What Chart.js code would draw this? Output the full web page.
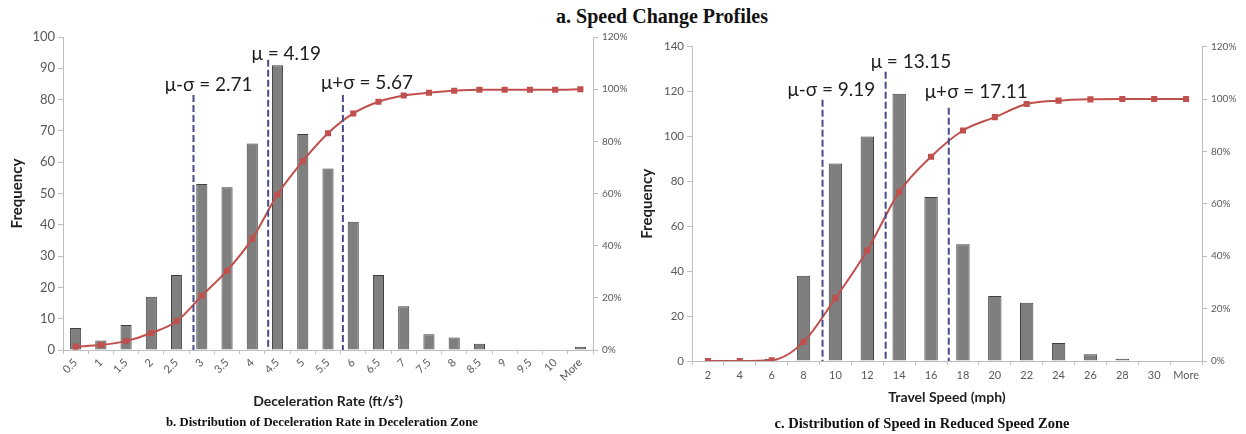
<!DOCTYPE html>
<html><head><meta charset="utf-8">
<script src="https://cdn.jsdelivr.net/npm/chart.js@4.4.0/dist/chart.umd.min.js"></script>
<style>
html,body{margin:0;padding:0;background:#fff;width:1246px;height:434px;overflow:hidden;position:relative;}
.box{position:absolute;top:0;height:434px;}
#b1{left:0;width:640px;}
#b2{left:632px;width:614px;}
.t{position:absolute;font-family:"Liberation Serif","Times New Roman",serif;font-weight:bold;color:#111;white-space:nowrap;transform:translateX(-50%);line-height:1;}
</style></head><body>
<div class="t" style="left:662px;top:6px;font-size:20px;">a. Speed Change Profiles</div>
<div class="box" id="b1"><canvas id="c1"></canvas></div>
<div class="box" id="b2"><canvas id="c2"></canvas></div>
<div class="t" style="left:322px;top:416px;font-size:12.8px;">b. Distribution of Deceleration Rate in Deceleration Zone</div>
<div class="t" style="left:922px;top:416px;font-size:14.5px;">c. Distribution of Speed in Reduced Speed Zone</div>
<script>
// ---- data ----
const decelBins = ['0.5','1','1.5','2','2.5','3','3.5','4','4.5','5','5.5','6','6.5','7','7.5','8','8.5','9','9.5','10','More'];
const decelFreq = [7,3,8,17,24,53,52,66,91,69,58,41,24,14,5,4,2,0,0,0,1];
const decelCumPct = [1.3,1.9,3.4,6.5,11,20.8,30.4,42.7,59.6,72.4,83.1,90.7,95.2,97.6,98.6,99.4,99.8,99.8,99.8,99.8,100];
const decelStatValues = [2.71, 4.19, 5.67];
const decelStatLabels = ['μ-σ = 2.71','μ = 4.19','μ+σ = 5.67'];
const decelFreqTicks = [0,10,20,30,40,50,60,70,80,90,100];
const speedBins = ['2','4','6','8','10','12','14','16','18','20','22','24','26','28','30','More'];
const speedFreq = [0,0,1,38,88,100,119,73,52,29,26,8,3,1,0,0];
const speedCumPct = [0,0,0.3,7.3,24,42.3,64.5,78,88,93.1,98.1,99.4,99.9,100,100,100];
const speedStatValues = [9.19, 13.15, 17.11];
const speedStatLabels = ['μ-σ = 9.19','μ = 13.15','μ+σ = 17.11'];
const speedFreqTicks = [0,20,40,60,80,100,120,140];
const pctTicks = [0,20,40,60,80,100,120];

const FONT = 'Lato, "Open Sans", sans-serif';
const AXIS = '#bfbfbf';
const TICK = '#595959';

const statLinePlugin = {
  id: 'statLines',
  afterDatasetsDraw(chart, args, o) {
    const {ctx, scales} = chart;
    const x = scales.x, y = scales.y;
    ctx.save();
    o.values.forEach((v, i) => {
      const px = x.getPixelForValue(o.toIndex(v));
      const top = y.getPixelForValue(o.tops[i]);
      const bottom = y.getPixelForValue(0);
      ctx.setLineDash([7, 3]);
      ctx.lineWidth = 2;
      ctx.strokeStyle = o.color;
      ctx.beginPath(); ctx.moveTo(px, top); ctx.lineTo(px, bottom); ctx.stroke();
      ctx.setLineDash([]);
      ctx.font = o.font;
      ctx.fillStyle = '#1e1e1e';
      ctx.textAlign = 'left';
      ctx.textBaseline = 'middle';
      ctx.fillText(o.labels[i], px + o.dx[i], y.getPixelForValue(o.labelY[i]));
    });
    ctx.restore();
  }
};

function makeChart(id, cfg) {
  return new Chart(document.getElementById(id), {
    type: 'bar',
    data: {
      labels: cfg.bins,
      datasets: [
        { type: 'line', label: 'Cumulative %', data: cfg.cum, yAxisID: 'y1', order: 0,
          borderColor: '#c0504d', backgroundColor: '#c0504d', borderWidth: 2,
          pointStyle: 'rect', pointRadius: 4.3, pointBackgroundColor: '#c0504d', pointBorderWidth: 0,
          cubicInterpolationMode: 'monotone' },
        { type: 'bar', label: 'Frequency', data: cfg.freq, yAxisID: 'y', order: 1,
          backgroundColor: '#7f7f7f', borderColor: '#404040', borderWidth: 1,
          barPercentage: cfg.barPct, categoryPercentage: 1 }
      ]
    },
    options: {
      responsive: true, maintainAspectRatio: false, animation: false,
      layout: { padding: cfg.padding },
      plugins: { legend: { display: false }, tooltip: { enabled: false }, statLines: cfg.stat },
      scales: {
        x: {
          offset: true,
          grid: { display: true, drawOnChartArea: false, drawTicks: true, tickLength: 4, color: AXIS, offset: true },
          border: { color: AXIS, width: 1 },
          ticks: { autoSkip: false, minRotation: cfg.rot, maxRotation: cfg.rot, color: TICK, padding: cfg.xPad,
                   font: { family: FONT, size: cfg.xFont } },
          title: { display: true, text: cfg.xTitle, color: '#1e1e1e', padding: 0,
                   font: { family: FONT, size: 14, weight: 'bold' } },
          afterFit: s => { s.height = cfg.xHeight; }
        },
        y: {
          position: 'left', min: 0, max: cfg.yMax,
          afterBuildTicks: s => { s.ticks = cfg.yTicks.map(v => ({ value: v })); },
          grid: { display: true, drawOnChartArea: false, drawTicks: true, tickLength: 5, color: AXIS },
          border: { color: AXIS, width: 1 },
          ticks: { color: TICK, padding: 3, font: { family: FONT, size: cfg.yFont } },
          title: { display: true, text: 'Frequency', color: '#1e1e1e', padding: { top: cfg.yTitlePad, bottom: 0 },
                   font: { family: FONT, size: 15, weight: 'bold' } },
          afterFit: s => { s.width = cfg.yWidth; }
        },
        y1: {
          position: 'right', min: 0, max: 120,
          afterBuildTicks: s => { s.ticks = pctTicks.map(v => ({ value: v })); },
          grid: { display: true, drawOnChartArea: false, drawTicks: true, tickLength: 5, color: AXIS },
          border: { color: AXIS, width: 1 },
          ticks: { color: TICK, padding: 4, font: { family: FONT, size: 10 }, callback: v => v + '%' },
          afterFit: s => { s.width = cfg.y1Width; }
        }
      }
    },
    plugins: [statLinePlugin]
  });
}

makeChart('c1', {
  bins: decelBins, freq: decelFreq, cum: decelCumPct, barPct: 0.44, rot: 45, xPad: 2, xFont: 11,
  xTitle: 'Deceleration Rate (ft/s²)', xHeight: 60, yMax: 100, yTicks: decelFreqTicks, yFont: 13,
  yTitlePad: 8, yWidth: 63, y1Width: 47,
  padding: { top: 37, bottom: 24, left: 0, right: 0 },
  stat: { values: decelStatValues, labels: decelStatLabels, toIndex: v => (v - 0.5) / 0.5 + 0.25,
          tops: [81.5, 92.7, 81.5], labelY: [84.7, 94.5, 85.3], dx: [-28.7, -16.7, -22],
          color: '#4a4c8a', font: '19px ' + FONT }
});

makeChart('c2', {
  bins: speedBins, freq: speedFreq, cum: speedCumPct, barPct: 0.42, rot: 0, xPad: 4, xFont: 11,
  xTitle: 'Travel Speed (mph)', xHeight: 45, yMax: 140, yTicks: speedFreqTicks, yFont: 11.5,
  yTitlePad: 6, yWidth: 60, y1Width: 44,
  padding: { top: 46.7, bottom: 28, left: 0, right: 0 },
  stat: { values: speedStatValues, labels: speedStatLabels, toIndex: v => (v - 2) / 2,
          tops: [116.4, 128.8, 112.8], labelY: [120.8, 133.3, 119.9], dx: [-35, -15, -24],
          color: '#4a4c8a', font: '19px ' + FONT }
});
</script>
</body></html>
